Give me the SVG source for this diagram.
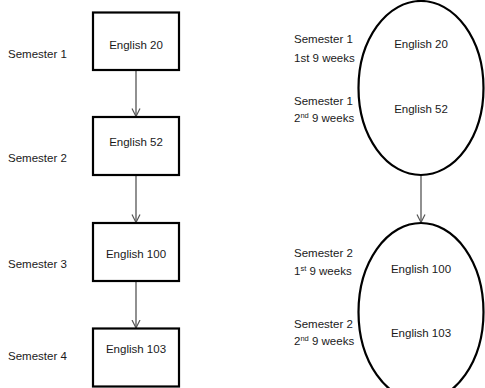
<svg xmlns="http://www.w3.org/2000/svg" width="485" height="388" viewBox="0 0 485 388">
<defs>
<style>
text{font-family:"Liberation Sans",Arial,sans-serif;font-size:11.5px;fill:#1a1a1a}
.c{text-anchor:middle}
.box{fill:#fff;stroke:#000;stroke-width:2.2}
.ell{fill:#fff;stroke:#000;stroke-width:2.2}
.edge{stroke:#555;stroke-width:1.3;fill:none}
.sup{font-size:7.5px}
</style>
<marker id="arr" markerWidth="10" markerHeight="10" refX="8.5" refY="5" orient="auto" markerUnits="userSpaceOnUse" viewBox="0 0 10 10">
<path d="M0.5,1 L8.5,5 L0.5,9" fill="none" stroke="#555" stroke-width="1.2"/>
</marker>
</defs>
<rect width="485" height="388" fill="#fff"/>

<g id="connectors">
<line class="edge" x1="136" y1="70" x2="136" y2="116.5" marker-end="url(#arr)"/>
<line class="edge" x1="136" y1="175" x2="136" y2="222.5" marker-end="url(#arr)"/>
<line class="edge" x1="136" y1="281" x2="136" y2="328" marker-end="url(#arr)"/>
<line class="edge" x1="421" y1="175" x2="421" y2="222.5" marker-end="url(#arr)"/>
</g>

<g id="label-sem1"><text x="8" y="58">Semester 1</text></g>
<g id="label-sem2"><text x="8" y="162">Semester 2</text></g>
<g id="label-sem3"><text x="8" y="268">Semester 3</text></g>
<g id="label-sem4"><text x="8" y="360">Semester 4</text></g>

<g id="node-eng20"><rect class="box" x="93" y="12.5" width="86" height="57.5"/><text class="c" x="136" y="49">English 20</text></g>
<g id="node-eng52"><rect class="box" x="93" y="117" width="86" height="58"/><text class="c" x="136" y="146">English 52</text></g>
<g id="node-eng100"><rect class="box" x="93" y="223" width="86" height="58"/><text class="c" x="136" y="258">English 100</text></g>
<g id="node-eng103"><rect class="box" x="93" y="328.5" width="86" height="58"/><text class="c" x="136" y="353">English 103</text></g>

<g id="node-ellipse1">
<ellipse class="ell" cx="421" cy="88" rx="62.5" ry="87"/>
<text class="c" x="421" y="48">English 20</text>
<text class="c" x="421" y="113">English 52</text>
</g>
<g id="node-ellipse2">
<ellipse class="ell" cx="421" cy="312" rx="62.5" ry="89"/>
<text class="c" x="421" y="273">English 100</text>
<text class="c" x="421" y="337">English 103</text>
</g>

<g id="labels-right">
<text x="294" y="43">Semester 1</text>
<text x="294" y="62">1st 9 weeks</text>
<text x="294" y="105">Semester 1</text>
<text x="294" y="122">2<tspan class="sup" dy="-4">nd</tspan><tspan dy="4"> 9 weeks</tspan></text>
<text x="294" y="257">Semester 2</text>
<text x="294" y="275">1<tspan class="sup" dy="-4">st</tspan><tspan dy="4"> 9 weeks</tspan></text>
<text x="294" y="328">Semester 2</text>
<text x="294" y="345">2<tspan class="sup" dy="-4">nd</tspan><tspan dy="4"> 9 weeks</tspan></text>
</g>
</svg>
